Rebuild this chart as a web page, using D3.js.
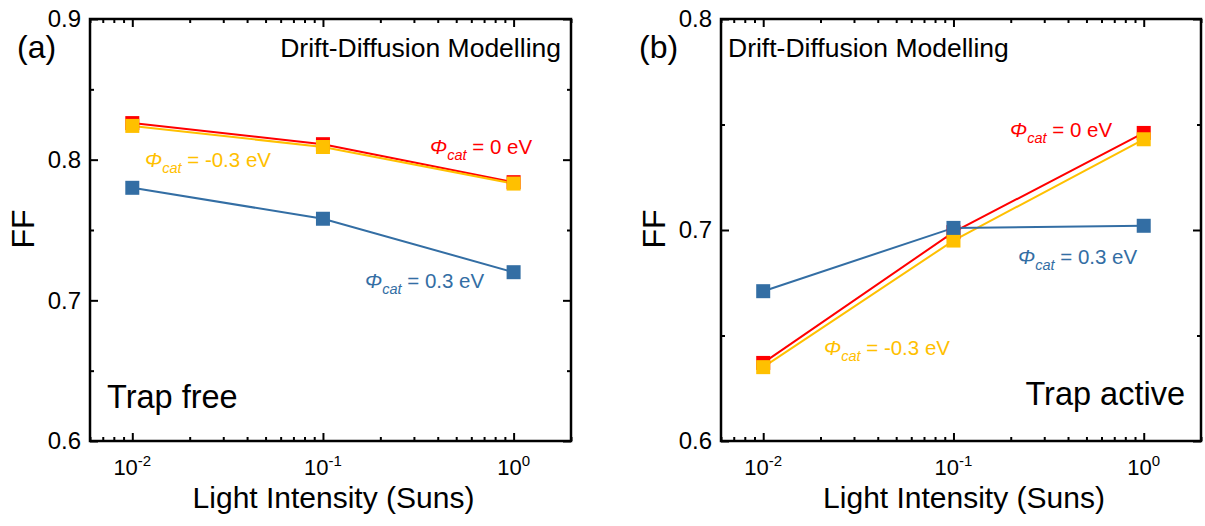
<!DOCTYPE html>
<html>
<head>
<meta charset="UTF-8">
<script src="https://d3js.org/d3.v7.min.js"></script>
<style>
  body { margin: 0; background: #fff; }
  text { font-family: Arial, "Liberation Sans", sans-serif; }
</style>
</head>
<body>
<svg id="chart" width="1205" height="526"></svg>
<script>
// data
var intensity = [0.01, 0.1, 1];
var ffFreeRed = [0.826, 0.811, 0.784];
var ffFreeYellow = [0.824, 0.809, 0.783];
var ffFreeBlue = [0.780, 0.758, 0.720];
var ffActiveRed = [0.637, 0.699, 0.746];
var ffActiveYellow = [0.635, 0.695, 0.743];
var ffActiveBlue = [0.671, 0.701, 0.702];
var xMajor = [0.01, 0.1, 1];
var xMajorExp = ["-2", "-1", "0"];
var yTicksA = [0.6, 0.7, 0.8, 0.9];
var yTicksB = [0.6, 0.7, 0.8];

var red = "#ff0000", yellow = "#ffc000", blue = "#336ea4";

var svg = d3.select("#chart");

// minor log ticks inside the domain
var xMinor = [];
[0.001, 0.01, 0.1, 1].forEach(function(d) {
  for (var k = 2; k <= 9; k++) {
    var v = d * k;
    if (v >= 0.006 && v <= 2) xMinor.push(v);
  }
});

function panel(opt) {
  var x = d3.scaleLog().domain([0.006, 2]).range([opt.left, opt.right]);
  var y = d3.scaleLinear().domain(opt.yDomain).range([441, 19]);
  var g = svg.append("g");

  var yMinor = [];
  for (var i = 0; i < opt.yTicks.length - 1; i++) yMinor.push((opt.yTicks[i] + opt.yTicks[i + 1]) / 2);

  function styleAxis(sel) {
    sel.select(".domain").remove();
    sel.selectAll("line").attr("stroke", "#000").attr("stroke-width", 2);
    sel.selectAll("text").remove();
  }

  // bottom & top
  g.append("g").attr("transform", "translate(0,441)")
    .call(d3.axisBottom(x).tickValues(xMajor).tickSize(-8)).call(styleAxis);
  g.append("g").attr("transform", "translate(0,441)")
    .call(d3.axisBottom(x).tickValues(xMinor).tickSize(-4)).call(styleAxis);
  g.append("g").attr("transform", "translate(0,19)")
    .call(d3.axisTop(x).tickValues(xMajor).tickSize(-8)).call(styleAxis);
  g.append("g").attr("transform", "translate(0,19)")
    .call(d3.axisTop(x).tickValues(xMinor).tickSize(-4)).call(styleAxis);
  // left & right
  g.append("g").attr("transform", "translate(" + opt.left + ",0)")
    .call(d3.axisLeft(y).tickValues(opt.yTicks).tickSize(-8)).call(styleAxis);
  g.append("g").attr("transform", "translate(" + opt.left + ",0)")
    .call(d3.axisLeft(y).tickValues(yMinor).tickSize(-4)).call(styleAxis);
  g.append("g").attr("transform", "translate(" + opt.right + ",0)")
    .call(d3.axisRight(y).tickValues(opt.yTicks).tickSize(-8)).call(styleAxis);
  g.append("g").attr("transform", "translate(" + opt.right + ",0)")
    .call(d3.axisRight(y).tickValues(yMinor).tickSize(-4)).call(styleAxis);

  // frame
  g.append("rect").attr("x", opt.left).attr("y", 19)
    .attr("width", opt.right - opt.left).attr("height", 422)
    .attr("fill", "none").attr("stroke", "#000").attr("stroke-width", 2.5);

  // y tick labels
  g.selectAll(".ylab").data(opt.yTicks).enter().append("text")
    .attr("x", opt.left - 9).attr("y", function(d) { return y(d); })
    .attr("dy", "0.35em").attr("text-anchor", "end")
    .style("font-size", "24px").text(function(d) { return d.toFixed(1); });

  // x tick labels
  xMajor.forEach(function(d, i) {
    var t = g.append("text").attr("x", x(d)).attr("y", 475)
      .attr("text-anchor", "middle").style("font-size", "22px");
    t.append("tspan").text("10");
    t.append("tspan").attr("dy", -9).style("font-size", "15px").text(xMajorExp[i]);
  });

  // axis titles
  g.append("text").attr("x", (opt.left + opt.right) / 2 + 3).attr("y", 508)
    .attr("text-anchor", "middle").style("font-size", "30px").text("Light Intensity (Suns)");
  g.append("text").attr("transform", "translate(" + (opt.left - 56) + ",229) rotate(-90)")
    .attr("text-anchor", "middle").style("font-size", "32px").text("FF");

  // series
  var line = d3.line().x(function(d, i) { return x(intensity[i]); }).y(function(d) { return y(d); });
  var series = [[opt.red, red], [opt.yellow, yellow], [opt.blue, blue]];
  series.forEach(function(s) {
    g.append("path").datum(s[0]).attr("d", line)
      .attr("fill", "none").attr("stroke", s[1]).attr("stroke-width", 2);
  });
  series.forEach(function(s) {
    g.selectAll(null).data(s[0]).enter().append("rect")
      .attr("x", function(d, i) { return x(intensity[i]) - 7; })
      .attr("y", function(d) { return y(d) - 7; })
      .attr("width", 14).attr("height", 14).attr("fill", s[1]);
  });

  // panel letter and notes
  g.append("text").attr("x", opt.letterX).attr("y", 58).style("font-size", "32px").text(opt.letter);
  g.append("text").attr("x", opt.noteX).attr("y", 57).attr("text-anchor", opt.noteAnchor)
    .style("font-size", "26.5px").text("Drift-Diffusion Modelling");
  g.append("text").attr("x", opt.trapX).attr("y", opt.trapY).attr("text-anchor", opt.trapAnchor)
    .style("font-size", "32.5px").text(opt.trap);

  opt.labels.forEach(function(l) {
    var t = g.append("text").attr("x", l.x).attr("y", l.y).attr("fill", l.c).style("font-size", "20.5px");
    t.append("tspan").style("font-style", "italic").text("\u03a6");
    t.append("tspan").attr("dy", 6).style("font-style", "italic").style("font-size", "14.5px").text("cat");
    t.append("tspan").attr("dy", -6).text(" = " + l.v + " eV");
  });
}

panel({
  left: 90, right: 571, yDomain: [0.6, 0.9], yTicks: yTicksA,
  red: ffFreeRed, yellow: ffFreeYellow, blue: ffFreeBlue,
  letter: "(a)", letterX: 17, noteX: 561, noteAnchor: "end",
  trap: "Trap free", trapX: 107, trapY: 408, trapAnchor: "start",
  labels: [
    { x: 430, y: 154, c: red, v: "0" },
    { x: 145, y: 167, c: yellow, v: "-0.3" },
    { x: 365, y: 288, c: blue, v: "0.3" }
  ]
});

panel({
  left: 721, right: 1201, yDomain: [0.6, 0.8], yTicks: yTicksB,
  red: ffActiveRed, yellow: ffActiveYellow, blue: ffActiveBlue,
  letter: "(b)", letterX: 639, noteX: 728, noteAnchor: "start",
  trap: "Trap active", trapX: 1185, trapY: 405, trapAnchor: "end",
  labels: [
    { x: 1010, y: 137, c: red, v: "0" },
    { x: 1018, y: 264, c: blue, v: "0.3" },
    { x: 824, y: 355, c: yellow, v: "-0.3" }
  ]
});
</script>
</body>
</html>
